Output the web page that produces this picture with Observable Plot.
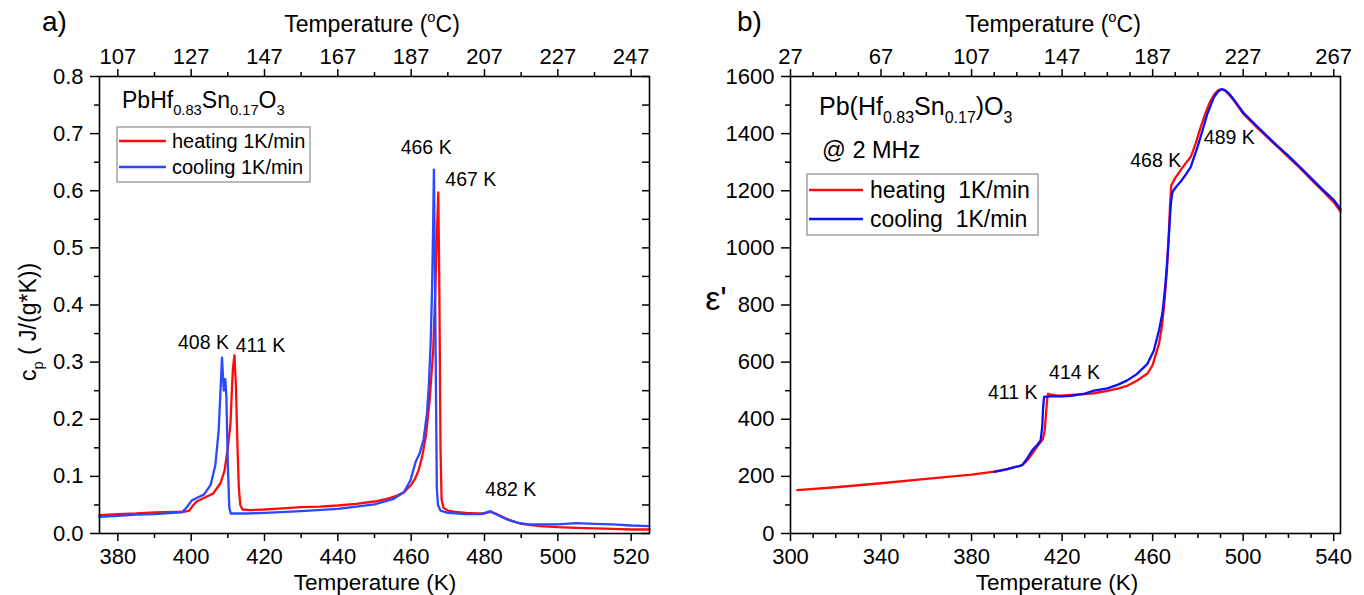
<!DOCTYPE html>
<html>
<head>
<meta charset="utf-8">
<script src="https://cdn.jsdelivr.net/npm/d3@7"></script>
<script src="https://cdn.jsdelivr.net/npm/@observablehq/plot@0.6"></script>
<style>
  body { margin: 0; background: #fff; }
  #fig { position: relative; width: 1364px; height: 595px; overflow: hidden; background: #fff; }
  #fig svg { position: absolute; top: 0; }
</style>
</head>
<body>
<div id="fig"></div>
<script>
// ---------- Panel a: specific heat of PbHf0.83Sn0.17O3 (DSC, 1 K/min) ----------
const cpHeatT = [375, 380, 385, 390, 395, 398, 399.5, 400.5, 401.5, 403.5, 406, 408, 409.1, 410, 410.7, 411.1, 411.4, 411.8, 412.2, 412.6, 413, 413.4, 414, 416, 420, 425, 430, 435, 440, 445, 450, 453, 456, 458, 460, 461, 462, 463, 464, 465, 466, 466.6, 467, 467.4, 467.7, 468, 468.3, 468.8, 470, 472, 475, 478, 480, 481, 481.6, 483, 485, 487, 490, 495, 500, 505, 510, 515, 520, 525];
const cpHeat  = [0.032, 0.034, 0.035, 0.037, 0.038, 0.038, 0.040, 0.049, 0.056, 0.062, 0.070, 0.088, 0.11, 0.15, 0.19, 0.25, 0.29, 0.312, 0.26, 0.16, 0.08, 0.05, 0.042, 0.041, 0.042, 0.044, 0.046, 0.047, 0.049, 0.052, 0.056, 0.060, 0.066, 0.072, 0.085, 0.095, 0.11, 0.135, 0.17, 0.23, 0.32, 0.43, 0.52, 0.597, 0.42, 0.15, 0.06, 0.045, 0.040, 0.038, 0.036, 0.035, 0.035, 0.037, 0.038, 0.035, 0.029, 0.023, 0.017, 0.013, 0.011, 0.010, 0.009, 0.008, 0.007, 0.007];
const cpCoolT = [375, 380, 385, 390, 395, 397.5, 398.8, 400.2, 401.5, 403.5, 405.3, 406.6, 407.5, 408, 408.4, 408.9, 409.3, 409.6, 410, 410.4, 410.8, 415, 420, 430, 440, 450, 455, 458, 459.8, 461.2, 462.3, 463.4, 464.3, 464.8, 465.3, 465.7, 466, 466.2, 466.5, 466.8, 467, 467.3, 468, 470, 475, 479, 481.6, 483, 486, 489, 492, 500, 505, 510, 515, 520, 525];
const cpCool  = [0.029, 0.031, 0.033, 0.034, 0.036, 0.037, 0.046, 0.058, 0.062, 0.068, 0.085, 0.12, 0.18, 0.25, 0.308, 0.25, 0.27, 0.24, 0.12, 0.045, 0.035, 0.035, 0.036, 0.039, 0.043, 0.051, 0.060, 0.072, 0.093, 0.125, 0.14, 0.165, 0.21, 0.257, 0.33, 0.43, 0.54, 0.637, 0.45, 0.22, 0.08, 0.05, 0.040, 0.036, 0.034, 0.034, 0.039, 0.034, 0.025, 0.019, 0.016, 0.016, 0.018, 0.017, 0.016, 0.014, 0.013];
// annotated transition temperatures (K) and the curve value at each
const cpPeakT = [408, 411, 466, 467, 482];
const cpPeakV = [0.308, 0.312, 0.637, 0.597, 0.039];
const kTicksA = [380, 400, 420, 440, 460, 480, 500, 520];
const cTicksA = [107, 127, 147, 167, 187, 207, 227, 247];
const cpTicks = [0, 0.1, 0.2, 0.3, 0.4, 0.5, 0.6, 0.7, 0.8];

// ---------- Panel b: permittivity of Pb(Hf0.83Sn0.17)O3 at 2 MHz ----------
const epsHeatT = [303, 320, 340, 360, 380, 390, 396, 401, 402.5, 404.6, 407, 409.5, 411.5, 412.3, 412.7, 413.1, 413.5, 413.8, 415, 417.9, 420, 424, 430, 434, 440, 445, 449, 453, 457.7, 460, 462.8, 464.2, 465.3, 466.3, 467.1, 467.7, 468.2, 470, 472.4, 474.5, 476.8, 479, 481.2, 483.5, 485.6, 487.5, 489, 490.5, 492, 494, 496, 500, 505, 510, 515, 520, 525, 530, 535, 540, 543];
const epsHeat  = [152, 162, 176, 191, 206, 217, 226, 236, 240, 256, 282, 310, 330, 360, 400, 440, 478, 489, 486, 483, 483, 485, 488, 491, 499, 508, 518, 535, 560, 590, 664, 730, 820, 920, 1040, 1150, 1218, 1245, 1272, 1295, 1318, 1365, 1422, 1475, 1516, 1540, 1552, 1555, 1550, 1535, 1515, 1470, 1430, 1392, 1355, 1318, 1280, 1240, 1200, 1160, 1127];
const epsCoolT = [390, 395, 399, 401.5, 402.4, 404.5, 406.8, 409, 410.5, 411.2, 411.6, 412, 415, 420, 424, 430, 434.1, 440, 445, 448.8, 453, 457.7, 460.5, 462.8, 464.3, 465.5, 466.5, 467.3, 468, 468.6, 469.1, 470.5, 472.4, 474.5, 476.8, 479.8, 482, 484.2, 487.1, 489, 490.5, 492, 494, 496, 500, 505, 510, 515, 520, 525, 530, 535, 540, 543];
const epsCool  = [216, 224, 232, 237, 240, 262, 291, 310, 326, 372, 440, 478, 480, 480, 482, 490, 500, 508, 522, 536, 558, 594, 640, 711, 770, 860, 960, 1060, 1150, 1190, 1200, 1215, 1232, 1255, 1283, 1353, 1410, 1470, 1528, 1548, 1556, 1552, 1538, 1518, 1474, 1434, 1396, 1358, 1322, 1284, 1244, 1205, 1168, 1136];
const epsPeakT = [411, 414, 468, 489];
const epsPeakV = [478, 489, 1218, 1555];
const kTicksB = [300, 340, 380, 420, 460, 500, 540];
const cTicksB = [27, 67, 107, 147, 187, 227, 267];
const epsTicks = [0, 200, 400, 600, 800, 1000, 1200, 1400, 1600];

const seriesNames = ["heating 1K/min", "cooling 1K/min"];
const seriesNamesB = ["heating  1K/min", "cooling  1K/min"];

// ---------- shared settings ----------
const FONT = '"Liberation Sans", Arial, Helvetica, sans-serif';
const RED = "#ff0a0a", BLUE_A = "#2a48ff", BLUE_B = "#0a10ff";
const W = 682, H = 595, M_TOP = 76, M_BOTTOM = 62;
const zip = (xs, ys) => xs.map((T, i) => ({T, v: ys[i]}));
const fig = document.getElementById("fig");

function axes({kTicks, cTicks, kMinor, yTicks, yMinor, yFormat}) {
  return [
    Plot.axisX(kTicks, {anchor: "bottom", tickSize: 8, tickPadding: 7, strokeWidth: 1.5, label: null}),
    Plot.axisX(kMinor, {anchor: "bottom", tickSize: 5, strokeWidth: 1.5, fill: "none", label: null}),
    Plot.axisX(cTicks.map(c => c + 273), {anchor: "top", tickSize: 8, tickPadding: 5, strokeWidth: 1.5, tickFormat: k => k - 273, label: null}),
    Plot.axisX(kMinor, {anchor: "top", tickSize: 5, strokeWidth: 1.5, fill: "none", label: null}),
    Plot.axisY(yTicks, {anchor: "left", tickSize: 9, tickPadding: 7, strokeWidth: 1.5, tickFormat: yFormat, label: null}),
    Plot.axisY(yMinor, {anchor: "left", tickSize: 5, strokeWidth: 1.5, fill: "none", label: null})
  ];
}

function annotations(Ts, Vs, offsets) {
  return Ts.map((T, i) => Plot.text([{T, v: Vs[i]}], {
    x: "T", y: "v", text: d => `${d.T} K`,
    dx: offsets[i][0], dy: offsets[i][1],
    fontSize: 19.5, fill: "#000", textAnchor: "middle", lineAnchor: "middle"
  }));
}

// ---------- panel a ----------
const mlA = 99, mrA = 33;
const plotA = Plot.plot({
  width: W, height: H,
  marginTop: M_TOP, marginBottom: M_BOTTOM, marginLeft: mlA, marginRight: mrA,
  style: {fontFamily: FONT, fontSize: "22px", background: "transparent", color: "#000", overflow: "visible"},
  x: {domain: [375, 525]},
  y: {domain: [0, 0.8]},
  marks: [
    ...axes({
      kTicks: kTicksA, cTicks: cTicksA,
      kMinor: d3.range(390, 521, 20),
      yTicks: cpTicks, yMinor: d3.range(0.05, 0.8, 0.1),
      yFormat: d3.format(".1f")
    }),
    // inward ticks along the right edge
    Plot.tickY(d3.range(0, 0.801, 0.05), {y: d => d, insetLeft: W - mlA - mrA - 7, strokeWidth: 1.5}),
    Plot.line(zip(cpHeatT, cpHeat), {x: "T", y: "v", stroke: RED, strokeWidth: 2.3}),
    Plot.line(zip(cpCoolT, cpCool), {x: "T", y: "v", stroke: BLUE_A, strokeWidth: 2.3}),
    ...annotations(cpPeakT, cpPeakV, [[-17, -15], [29, -10], [-7, -22], [34, -13], [19, -21]]),
    Plot.frame({stroke: "#000", strokeWidth: 1.6})
  ]
});
plotA.style.left = "0px";
fig.appendChild(plotA);

// ---------- panel b ----------
const mlB = 108, mrB = 24;
const plotB = Plot.plot({
  width: W, height: H,
  marginTop: M_TOP, marginBottom: M_BOTTOM, marginLeft: mlB, marginRight: mrB,
  style: {fontFamily: FONT, fontSize: "22px", background: "transparent", color: "#000", overflow: "visible"},
  x: {domain: [300, 543]},
  y: {domain: [0, 1600]},
  marks: [
    ...axes({
      kTicks: kTicksB, cTicks: cTicksB,
      kMinor: d3.range(310, 543, 10).filter(k => (k - 300) % 40 !== 0),
      yTicks: epsTicks, yMinor: d3.range(100, 1600, 200),
      yFormat: d3.format("d")
    }),
    Plot.line(zip(epsHeatT, epsHeat), {x: "T", y: "v", stroke: RED, strokeWidth: 2.3}),
    Plot.line(zip(epsCoolT, epsCool), {x: "T", y: "v", stroke: BLUE_B, strokeWidth: 2.3}),
    ...annotations(epsPeakT, epsPeakV, [[-29, -4], [26, -21], [-15, -25], [11, 48]]),
    Plot.frame({stroke: "#000", strokeWidth: 1.6})
  ]
});
plotB.style.left = W + "px";
fig.appendChild(plotB);

// ---------- titles, formulas and legends ----------
const ov = d3.select(fig).append("svg")
  .attr("width", 1364).attr("height", 595)
  .style("left", "0px").style("font-family", FONT).style("pointer-events", "none");

// parts: [string, "sub" | "sup" | undefined]
function rich(x, y, size, parts, {anchor = "start", transform = null, subScale = 0.64, subShift = 0.3} = {}) {
  const t = ov.append("text").attr("font-size", size).attr("text-anchor", anchor)
    .style("white-space", "pre").attr("fill", "#000");
  if (transform) t.attr("transform", transform); else t.attr("x", x).attr("y", y);
  let shift = 0;
  for (const [s, kind] of parts) {
    const target = kind === "sub" ? subShift * size : kind === "sup" ? -0.42 * size : 0;
    const ts = t.append("tspan").text(s).attr("dy", target - shift);
    if (kind) ts.attr("font-size", size * subScale);
    shift = target;
  }
  return t;
}

rich(42, 31, 28, [["a)"]]);
rich(737, 31, 28, [["b)"]]);
rich(372, 32, 23, [["Temperature ("], ["o", "sup"], ["C)"]], {anchor: "middle"});
rich(1053, 32, 23, [["Temperature ("], ["o", "sup"], ["C)"]], {anchor: "middle"});
rich(375, 590, 22.5, [["Temperature (K)"]], {anchor: "middle"});
rich(1057, 590, 22.5, [["Temperature (K)"]], {anchor: "middle"});
rich(0, 0, 23, [["c"], ["p", "sub"], [" ( J/(g*K))"]], {anchor: "middle", transform: "translate(36,322) rotate(-90)"});
rich(716, 310, 34, [["ε'"]], {anchor: "middle"});

rich(122, 108, 23, [["PbHf"], ["0.83", "sub"], ["Sn"], ["0.17", "sub"], ["O"], ["3", "sub"]]);
rich(819, 115, 25, [["Pb(Hf"], ["0.83", "sub"], ["Sn"], ["0.17", "sub"], [")O"], ["3", "sub"]]);
rich(822, 158, 23.5, [["@ 2 MHz"]]);

function legend(box, lineX, rows, textX, size, names, colors) {
  ov.append("rect").attr("x", box[0]).attr("y", box[1]).attr("width", box[2]).attr("height", box[3])
    .attr("fill", "#fff").attr("stroke", "#8c8c8c").attr("stroke-width", 1.2);
  names.forEach((name, i) => {
    ov.append("line").attr("x1", lineX[0]).attr("x2", lineX[1]).attr("y1", rows[i]).attr("y2", rows[i])
      .attr("stroke", colors[i]).attr("stroke-width", 2.5);
    rich(textX, rows[i] + 0.36 * size, size, [[name]]);
  });
}
legend([117, 127, 193, 55], [119, 166], [141, 167], 172, 20, seriesNames, [RED, BLUE_A]);
legend([807, 174, 231, 61], [809, 863], [190, 219], 870, 23, seriesNamesB, [RED, BLUE_B]);
</script>
</body>
</html>
